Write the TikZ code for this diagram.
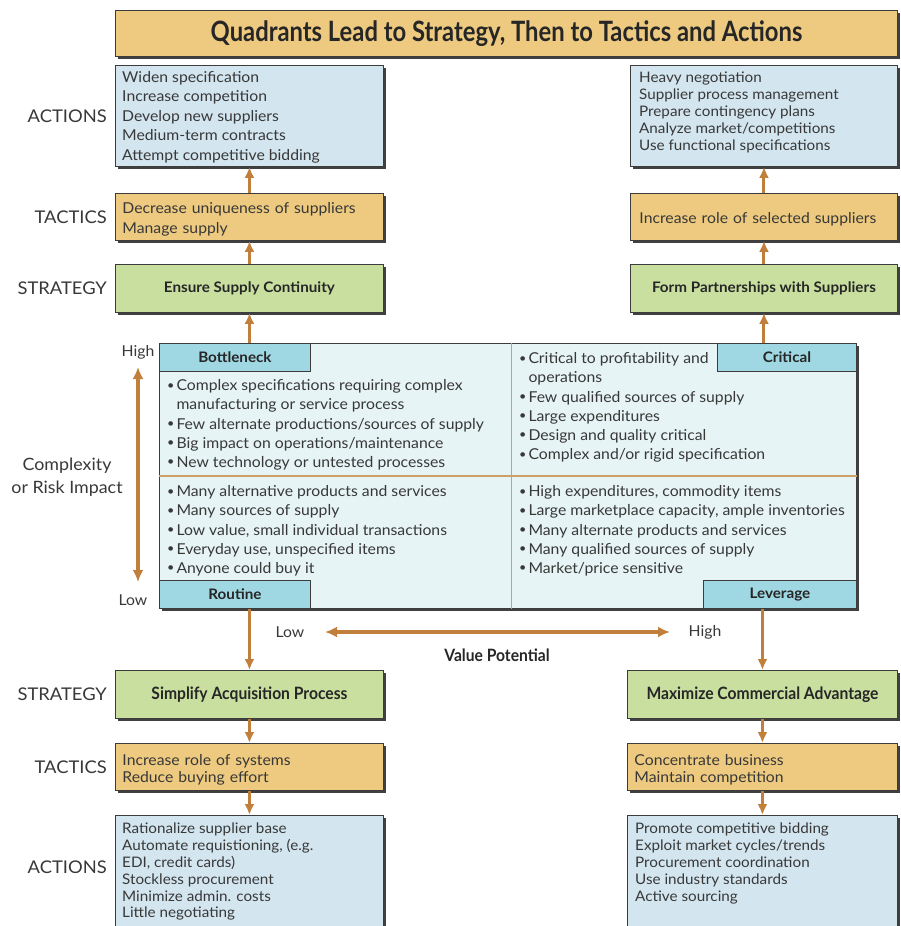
\documentclass[tikz,border=0pt]{standalone}
\usepackage{fontspec}
\usepackage{graphicx}
\setmainfont{Lato}[FakeStretch=1.05]
\newfontfamily\condfont{Lato}[FakeStretch=0.85]
\newfontfamily\semicond{Lato}[FakeStretch=0.92]
\usetikzlibrary{positioning, shadows, arrows.meta}

\definecolor{actblue}{HTML}{D3E5EF}
\definecolor{tactan}{HTML}{EDCA7F}
\definecolor{stratgreen}{HTML}{C9DF9F}
\definecolor{quadfill}{HTML}{E7F4F5}
\definecolor{quadlabel}{HTML}{9FD8E2}
\definecolor{flowbrown}{HTML}{C07F3A}
\definecolor{divbrown}{HTML}{CDA066}
\definecolor{inkgray}{HTML}{383838}
\definecolor{edgegray}{HTML}{3C3C3C}

\newcommand{\bul}{\raisebox{1.5pt}{\scalebox{0.8}{\textbullet}}}

\begin{document}
\begin{tikzpicture}[
	x=1pt, y=-1pt,
	font=\fontsize{15}{19.5}\selectfont,
	text=inkgray,
	box/.style={
		draw=edgegray, line width=0.9pt, anchor=north west, inner sep=0pt,
		drop shadow={shadow xshift=3pt, shadow yshift=-3pt, fill=black!75, opacity=1}
	},
	titlebox/.style={box, fill=tactan, font=\condfont\bfseries\fontsize{28}{32}\selectfont, text=black!85},
	actbox/.style={box, fill=actblue},
	actext/.style={align=left, inner sep=0pt},
	tacbox/.style={box, fill=tactan, align=left, text width=254pt, inner xsep=7pt, minimum height=47,
		execute at begin node={\rule{0pt}{16pt}}},
	stratbox/.style={box, fill=stratgreen, minimum height=48, font=\bfseries\fontsize{14.5}{17}\selectfont, text=black!85},
	qlabel/.style={draw=edgegray, line width=0.9pt, fill=quadlabel, minimum height=28, inner sep=0pt,
		font=\bfseries\fontsize{14.5}{17}\selectfont, text=black!85},
	qtext/.style={inner sep=0pt, font=\fontsize{15}{19.2}\selectfont},
	divider/.style={draw=divbrown, line width=1.2pt},
	rowlbl/.style={font=\fontsize{17.5}{20}\selectfont, anchor=east, inner sep=0pt},
	axlbl/.style={font=\fontsize{15}{17}\selectfont, inner sep=0pt},
	flow/.style={-{Latex[length=11pt, width=10pt]}, line width=3pt, flowbrown},
	dbl/.style={{Latex[length=12pt, width=11pt]}-{Latex[length=12pt, width=11pt]}, line width=3.5pt, flowbrown}
	]
	\useasboundingbox (0,0) rectangle (900,926);
	
	% Title
	\node[titlebox, minimum width=782, minimum height=46] (title) at (115,10) {Quadrants Lead to Strategy, Then to Tactics and Actions};
	
	% Upper left: bottleneck column
	\node[actbox, minimum width=268, minimum height=101] (act_tl) at (115,65) {};
	\node[actext, below right=6pt and 7pt of act_tl.north west] {Widen specification\\Increase competition\\Develop new suppliers\\Medium-term contracts\\Attempt competitive bidding};
	\node[tacbox] (tac_tl) at (115,193) {Decrease uniqueness of suppliers\\Manage supply};
	\node[stratbox, minimum width=268] (str_tl) at (115,264) {Ensure Supply Continuity};
	
	% Upper right: critical column
	\node[actbox, minimum width=267, minimum height=101] (act_tr) at (630,65) {};
	\node[actext, font=\fontsize{14.5}{16.8}\selectfont, below right=7pt and 9pt of act_tr.north west] {Heavy negotiation\\Supplier process management\\Prepare contingency plans\\Analyze market/competitions\\Use functional specifications};
	\node[tacbox, text width=249pt, inner xsep=9pt] (tac_tr) at (630,193) {Increase role of selected suppliers};
	\node[stratbox, minimum width=267] (str_tr) at (630,264) {Form Partnerships with Suppliers};
	
	% Row labels, upper half
	\node[rowlbl, left=8pt of act_tl] {ACTIONS};
	\node[rowlbl, left=8pt of tac_tl] {TACTICS};
	\node[rowlbl, left=8pt of str_tl] {STRATEGY};
	
	% Quadrant grid
	\node[box, fill=quadfill, minimum width=697, minimum height=265] (grid) at (159,343) {};
	\coordinate (mid) at (511.5,476);
	\draw[divider] (mid |- grid.north) -- (mid |- grid.south);
	\draw[divider] (grid.west |- mid) -- (grid.east |- mid);
	
	\node[qlabel, minimum width=151, anchor=north west] (lbl_bottleneck) at (grid.north west) {Bottleneck};
	\node[qlabel, minimum width=139, anchor=north east] (lbl_critical) at (grid.north east) {Critical};
	\node[qlabel, minimum width=151, anchor=south west] (lbl_routine) at (grid.south west) {Routine};
	\node[qlabel, minimum width=153, anchor=south east] (lbl_leverage) at (grid.south east) {Leverage};
	
	\node[qtext, below right=34pt and 8pt of grid.north west] (txt_bottleneck) {%
		\begin{tabular}{@{}l@{\hspace{2pt}}l@{}}
			\bul & Complex specifications requiring complex\\
			& manufacturing or service process\\
			\bul & Few alternate productions/sources of supply\\
			\bul & Big impact on operations/maintenance\\
			\bul & New technology or untested processes
		\end{tabular}};
	\node[qtext, below right=7pt and 8pt of grid.west |- mid] (txt_routine) {%
		\begin{tabular}{@{}l@{\hspace{2pt}}l@{}}
			\bul & Many alternative products and services\\
			\bul & Many sources of supply\\
			\bul & Low value, small individual transactions\\
			\bul & Everyday use, unspecified items\\
			\bul & Anyone could buy it
		\end{tabular}};
	\node[qtext, below right=7pt and 7.5pt of mid |- grid.north] (txt_critical) {%
		\begin{tabular}{@{}l@{\hspace{2pt}}l@{}}
			\bul & Critical to profitability and\\
			& operations\\
			\bul & Few qualified sources of supply\\
			\bul & Large expenditures\\
			\bul & Design and quality critical\\
			\bul & Complex and/or rigid specification
		\end{tabular}};
	\node[qtext, below right=7pt and 7.5pt of mid] (txt_leverage) {%
		\begin{tabular}{@{}l@{\hspace{2pt}}l@{}}
			\bul & High expenditures, commodity items\\
			\bul & Large marketplace capacity, ample inventories\\
			\bul & Many alternate products and services\\
			\bul & Many qualified sources of supply\\
			\bul & Market/price sensitive
		\end{tabular}};
	
	% Axes
	\node[axlbl] (ax_high) at (138,352) {High};
	\node[axlbl] (ax_low) at (133,600) {Low};
	\coordinate (ax_top) at (138,367);
	\coordinate (ax_bot) at (138,582);
	\draw[dbl] (ax_top) -- (ax_bot);
	\node[align=center, font=\fontsize{17}{23}\selectfont] (ax_title) at (67,477) {Complexity\\or Risk Impact};
	
	\node[axlbl] (val_low) at (290,632) {Low};
	\node[axlbl] (val_high) at (705,632) {High};
	\coordinate (val_from) at (325,632);
	\coordinate (val_to) at (670,632);
	\draw[dbl] (val_from) -- (val_to);
	\node[font=\semicond\bfseries\fontsize{17}{20}\selectfont, text=black!85] (val_title) at (497,655) {Value Potential};
	
	% Lower left: routine column
	\node[stratbox, minimum width=268, font=\semicond\bfseries\fontsize{17}{20}\selectfont] (str_bl) at (115,670) {Simplify Acquisition Process};
	\node[tacbox, font=\fontsize{15}{17}\selectfont] (tac_bl) at (115,743) {Increase role of systems\\Reduce buying effort};
	\node[actbox, minimum width=268, minimum height=125] (act_bl) at (115,815) {};
	\node[actext, font=\fontsize{14.5}{16.8}\selectfont, below right=8pt and 7pt of act_bl.north west] {Rationalize supplier base\\Automate requistioning, (e.g.\\EDI, credit cards)\\Stockless procurement\\Minimize admin. costs\\Little negotiating};
	
	% Lower right: leverage column
	\node[stratbox, minimum width=270, font=\semicond\bfseries\fontsize{17}{20}\selectfont] (str_br) at (627,670) {Maximize Commercial Advantage};
	\node[tacbox, text width=256pt, font=\fontsize{15}{17}\selectfont] (tac_br) at (627,743) {Concentrate business\\Maintain competition};
	\node[actbox, minimum width=270, minimum height=125] (act_br) at (627,815) {};
	\node[actext, font=\fontsize{14.5}{16.8}\selectfont, below right=8pt and 8pt of act_br.north west] {Promote competitive bidding\\Exploit market cycles/trends\\Procurement coordination\\Use industry standards\\Active sourcing};
	
	% Row labels, lower half
	\node[rowlbl, left=8pt of str_bl] {STRATEGY};
	\node[rowlbl, left=8pt of tac_bl] {TACTICS};
	\node[rowlbl] at (107,867) {ACTIONS};
	
	% Arrows
	\draw[flow] (tac_tl.north) -- (act_tl.south);
	\draw[flow] (str_tl.north) -- (tac_tl.south);
	\draw[flow] (str_tl.south |- grid.north) -- (str_tl.south);
	\draw[flow] (tac_tr.north) -- (act_tr.south);
	\draw[flow] (str_tr.north) -- (tac_tr.south);
	\draw[flow] (str_tr.south |- grid.north) -- (str_tr.south);
	\draw[flow] (str_bl.north |- grid.south) -- (str_bl.north);
	\draw[flow] (str_bl.south) -- (tac_bl.north);
	\draw[flow] (tac_bl.south) -- (act_bl.north);
	\draw[flow] (str_br.north |- grid.south) -- (str_br.north);
	\draw[flow] (str_br.south) -- (tac_br.north);
	\draw[flow] (tac_br.south) -- (act_br.north);
	
\end{tikzpicture}
\end{document}
